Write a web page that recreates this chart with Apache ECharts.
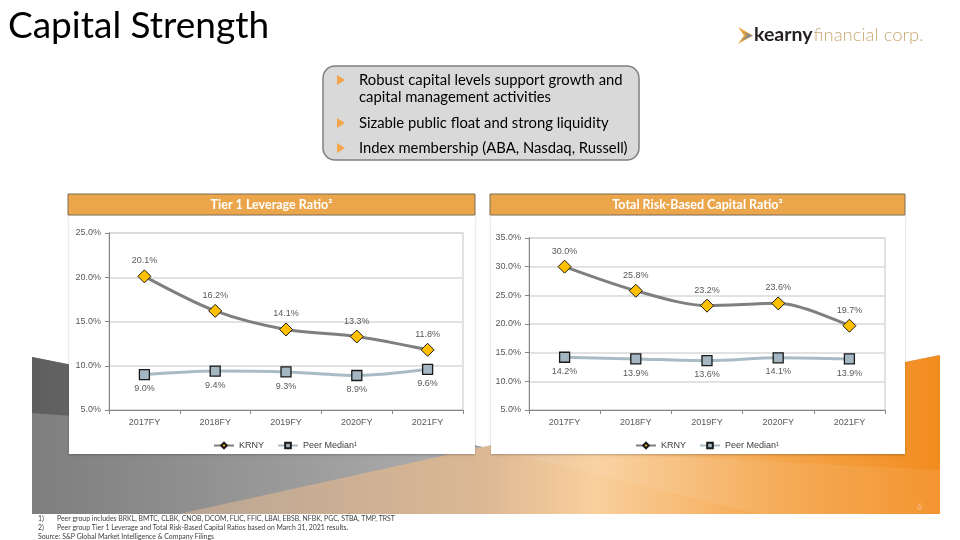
<!DOCTYPE html>
<html><head><meta charset="utf-8">
<script src="https://cdn.jsdelivr.net/npm/echarts@6/dist/echarts.min.js"></script>
<style>html,body{margin:0;padding:0;background:#fff}#c{width:960px;height:540px}</style>
</head><body><div id="c"></div>
<script>
const categories = ['2017FY','2018FY','2019FY','2020FY','2021FY'];
const tier1Krny = [20.1, 16.2, 14.1, 13.3, 11.8];
const tier1Peer = [9.0, 9.4, 9.3, 8.9, 9.6];
const trbKrny = [30.0, 25.8, 23.2, 23.6, 19.7];
const trbPeer = [14.2, 13.9, 13.6, 14.1, 13.9];
const seriesNames = ['KRNY', 'Peer Median¹'];
const chartTitles = ['Tier 1 Leverage Ratio²', 'Total Risk-Based Capital Ratio²'];
const pageTitle = 'Capital Strength';
const bulletLines = [
  ['Robust capital levels support growth and', 'capital management activities'],
  ['Sizable public float and strong liquidity'],
  ['Index membership (ABA, Nasdaq, Russell)']
];
const footnotes = [
  ['1)', 'Peer group includes BRKL, BMTC, CLBK, CNOB, DCOM, FLIC, FFIC, LBAI, EBSB, NFBK, PGC, STBA, TMP, TRST'],
  ['2)', 'Peer group Tier 1 Leverage and Total Risk-Based Capital Ratios based on March 31, 2021 results.'],
  ['', 'Source: S&P Global Market Intelligence & Company Filings']
];

const AX = 'Liberation Sans, Arial, sans-serif';
const UI = 'Lato, sans-serif';
const pct = v => v.toFixed(1) + '%';

function xAxis(gi) {
  return {
    type: 'category', gridIndex: gi, data: categories, boundaryGap: true,
    axisLine: { show: true, lineStyle: { color: '#868686', width: 1 } },
    axisTick: { show: true, interval: 0, length: 4, lineStyle: { color: '#868686' } },
    axisLabel: { color: '#595959', fontSize: 9, fontFamily: AX, margin: 8 },
    splitLine: { show: false }
  };
}
function yAxis(gi, max) {
  return {
    type: 'value', gridIndex: gi, min: 5, max: max, interval: 5,
    axisLine: { show: true, lineStyle: { color: '#868686', width: 1 } },
    axisTick: { show: true, length: 4, lineStyle: { color: '#868686' } },
    axisLabel: { color: '#595959', fontSize: 9, fontFamily: AX, margin: 8, formatter: v => pct(v) },
    splitLine: { show: true, lineStyle: { color: '#d9d9d9', width: 1.5 } }
  };
}
function krny(gi, data) {
  return {
    name: seriesNames[0], type: 'line', xAxisIndex: gi, yAxisIndex: gi, data: data,
    smooth: 0.3, symbol: 'diamond', symbolSize: 13, z: 4,
    lineStyle: { color: '#7f7f7f', width: 3 },
    itemStyle: { color: '#ffc000', borderColor: '#1a1a1a', borderWidth: 1 },
    label: { show: true, position: 'top', distance: 4, color: '#595959', fontSize: 9, fontFamily: AX, formatter: p => pct(p.value) }
  };
}
function peer(gi, data) {
  return {
    name: seriesNames[1], type: 'line', xAxisIndex: gi, yAxisIndex: gi, data: data,
    smooth: 0.3, symbol: 'rect', symbolSize: 10, z: 3,
    lineStyle: { color: '#a9bcc6', width: 3 },
    itemStyle: { color: '#a3b6c2', borderColor: '#1a1a1a', borderWidth: 1.3 },
    label: { show: true, position: 'bottom', distance: 4, color: '#595959', fontSize: 9, fontFamily: AX, formatter: p => pct(p.value) }
  };
}
function legend(left) {
  return {
    data: seriesNames, left: left, top: 436, itemWidth: 20, itemHeight: 7, itemGap: 13,
    textStyle: { color: '#404040', fontSize: 9, fontFamily: AX }
  };
}

const g = [];
// background band
g.push({ type: 'polygon', z: -20, shape: { points: [[32,357],[483,447],[940,355],[940,514],[32,514]] },
  style: { fill: new echarts.graphic.LinearGradient(0,0,1,0,[{offset:0,color:'#7e7e7e'},{offset:0.5,color:'#b0b0b0'},{offset:1,color:'#c0c0c0'}]) } });
g.push({ type: 'polygon', z: -19, shape: { points: [[32,357],[483,447],[32,413]] },
  style: { fill: new echarts.graphic.LinearGradient(0,0,1,0,[{offset:0,color:'#5e5e5e'},{offset:1,color:'#959595'}]) } });
g.push({ type: 'polygon', z: -18, shape: { points: [[179,514],[483,447],[940,355],[940,514]] },
  style: { fill: new echarts.graphic.LinearGradient(179,0,940,0,[{offset:0,color:'#b9a594'},{offset:0.4,color:'#dcb894'},{offset:0.55,color:'#f9cf9c'},{offset:0.8,color:'#f5a448'},{offset:1,color:'#f28c1f'}], true) } });
g.push({ type: 'polygon', z: -17, shape: { points: [[483,447],[940,470],[940,514],[760,514]] },
  style: { fill: 'rgba(255,255,255,0.08)' } });
// panels
g.push({ type: 'rect', z: -10, shape: { x: 69, y: 216, width: 406, height: 238 }, style: { fill: '#fff', shadowBlur: 2, shadowColor: 'rgba(0,0,0,0.25)', shadowOffsetY: 1 } });
g.push({ type: 'rect', z: -10, shape: { x: 491, y: 216, width: 414, height: 238 }, style: { fill: '#fff', shadowBlur: 2, shadowColor: 'rgba(0,0,0,0.25)', shadowOffsetY: 1 } });
// header bars
[[68, 475], [490, 905]].forEach((b, i) => {
  g.push({ type: 'rect', z: 10, shape: { x: b[0], y: 194, width: b[1] - b[0], height: 21 }, style: { fill: '#eba64c', stroke: '#7d6a52', lineWidth: 1 } });
  g.push({ type: 'text', z: 11, x: (b[0] + b[1]) / 2, y: 204.5, style: { text: chartTitles[i], fill: '#fff', font: 'bold 12.5px ' + UI, align: 'center', verticalAlign: 'middle' } });
});
// title
g.push({ type: 'text', z: 10, x: 8, y: 26, style: { text: pageTitle, fill: '#000', font: '37px ' + UI, verticalAlign: 'middle' } });
// logo
g.push({ type: 'polygon', z: 10, shape: { points: [[738,27],[753,35.5],[738,44],[744,35.5]] }, style: { fill: '#eaa53c' } });
g.push({ type: 'polygon', z: 11, shape: { points: [[743,32],[753,35.5],[741,41],[747,35.5]] }, style: { fill: '#8a8a8a' } });
g.push({ type: 'text', z: 10, x: 754, y: 35, style: {
  text: '{a|kearny}{b|financial corp.}', verticalAlign: 'middle',
  rich: {
    a: { fill: '#231f20', fontFamily: UI, fontWeight: 'bold', fontSize: 19.5 },
    b: { fill: '#c9aa72', fontFamily: UI, fontWeight: 300, fontSize: 18.5, padding: [0, 0, 0, 1] }
  } } });
// bullet box
g.push({ type: 'rect', z: 10, shape: { x: 323, y: 66, width: 316, height: 94, r: 12 }, style: { fill: '#d9d9d9', stroke: '#7f7f7f', lineWidth: 1.5 } });
const lineYs = [[80, 97], [123], [148]];
bulletLines.forEach((lines, i) => {
  const y0 = lineYs[i][0];
  g.push({ type: 'polygon', z: 11, shape: { points: [[337, y0 - 5], [345, y0], [337, y0 + 5]] }, style: { fill: '#f4a54b' } });
  lines.forEach((t, j) => {
    g.push({ type: 'text', z: 11, x: 359, y: lineYs[i][j], style: { text: t, fill: '#000', font: '14.8px ' + UI, verticalAlign: 'middle' } });
  });
});
// footnotes
const fy = [519, 528, 537];
const FN = '6.9px ' + UI;
footnotes.forEach((f, i) => {
  if (f[0]) {
    g.push({ type: 'text', z: 10, x: 38, y: fy[i], style: { text: f[0], fill: '#404040', font: FN, verticalAlign: 'middle' } });
    g.push({ type: 'text', z: 10, x: 57, y: fy[i], style: { text: f[1], fill: '#404040', font: FN, verticalAlign: 'middle' } });
  } else {
    g.push({ type: 'text', z: 10, x: 38, y: fy[i], style: { text: f[1], fill: '#404040', font: FN, verticalAlign: 'middle' } });
  }
});
g.push({ type: 'text', z: 10, x: 917, y: 507, style: { text: '6', fill: '#f7c08a', font: '9px ' + UI, verticalAlign: 'middle' } });

const chart = echarts.init(document.getElementById('c'), null, { renderer: 'canvas' });
chart.setOption({
  animation: false,
  backgroundColor: '#fff',
  graphic: { elements: g },
  grid: [
    { left: 109, right: 497, top: 233, bottom: 130, show: true, borderColor: '#d9d9d9', borderWidth: 1.5, backgroundColor: 'transparent' },
    { left: 529, right: 75, top: 238, bottom: 130, show: true, borderColor: '#d9d9d9', borderWidth: 1.5, backgroundColor: 'transparent' }
  ],
  xAxis: [xAxis(0), xAxis(1)],
  yAxis: [yAxis(0, 25), yAxis(1, 35)],
  legend: [legend(208), legend(630)],
  series: [krny(0, tier1Krny), peer(0, tier1Peer), krny(1, trbKrny), peer(1, trbPeer)]
});
</script></body></html>
